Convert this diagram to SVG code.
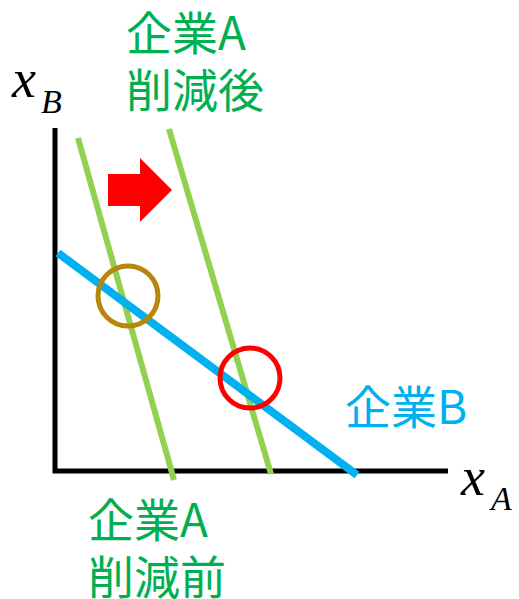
<svg xmlns="http://www.w3.org/2000/svg" width="519" height="599" viewBox="0 0 519 599">
<style>
.jp{font-family:"Noto Sans CJK JP","Noto Sans",sans-serif;font-size:46px}
.g{fill:#00B050}
.math{font-family:"Liberation Serif",serif;font-style:italic;fill:#000}
.gl{stroke:#92D050;stroke-width:6;fill:none}
</style>
<rect width="519" height="599" fill="#fff"/>
<g id="axes">
<path d="M55,128 L55,471 L448,471" fill="none" stroke="#000" stroke-width="5"/>
</g>
<g id="connectors">
<line class="gl" x1="78" y1="138" x2="174" y2="480"/>
<line class="gl" x1="169" y1="129" x2="271" y2="474"/>
<line x1="58" y1="253" x2="357" y2="475" stroke="#00B0F0" stroke-width="8"/>
</g>
<g id="circle-before"><circle cx="128" cy="296" r="30" fill="none" stroke="#B8860B" stroke-width="5"/></g>
<g id="circle-after"><circle cx="250" cy="378" r="30" fill="none" stroke="#FF0000" stroke-width="5"/></g>
<g id="arrow"><polygon points="108,174 140,174 140,158 172,190 140,222 140,206 108,206" fill="#FF0000"/></g>
<g id="label-xB"><text class="math" x="12" y="97" font-size="54">x</text><text class="math" x="41" y="113" font-size="34">B</text></g>
<g id="label-xA"><text class="math" x="461" y="495" font-size="54">x</text><text class="math" x="491" y="510" font-size="34">A</text></g>
<g id="label-after"><text class="jp g" x="126" y="50">企業A</text><text class="jp g" x="126" y="107">削減後</text></g>
<g id="label-before"><text class="jp g" x="88" y="537">企業A</text><text class="jp g" x="88" y="594">削減前</text></g>
<g id="label-B"><text class="jp" x="345" y="424" fill="#00B0F0" font-size="44">企業B</text></g>
</svg>
